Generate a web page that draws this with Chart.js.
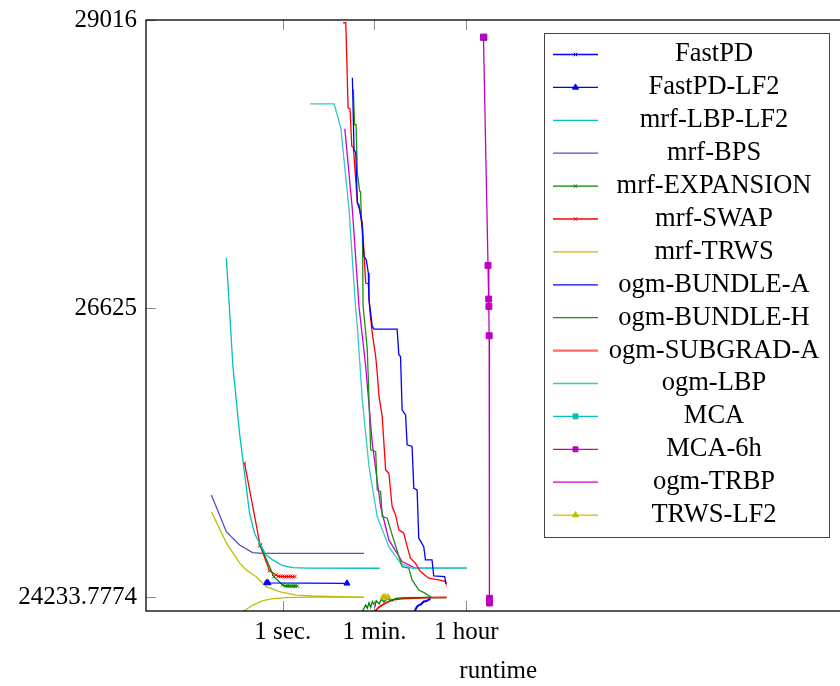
<!DOCTYPE html>
<html>
<head>
<meta charset="utf-8">
<script src="https://cdn.jsdelivr.net/npm/chart.js@4/dist/chart.umd.min.js"></script>
<style>
  html, body { margin: 0; padding: 0; background: #fff; overflow: hidden; }
  #wrap { width: 856px; height: 686px; }
</style>
</head>
<body>
<div id="wrap"><canvas id="chart" width="856" height="686"></canvas></div>
<script>
// x = runtime in seconds (log axis), y = energy
const xTicks = [1, 60, 3600];
const xTickLabels = ['1 sec.', '1 min.', '1 hour'];
const yTicks = [24233.7774, 26625, 29016];
const yTickLabels = ['24233.7774', '26625', '29016'];

const fastPD = [[0.48, 24352], [0.50, 24351]];
const fastPDLF2 = [[0.49, 24352], [0.52, 24350], [17.6, 24347]];
const mrfLBPLF2 = [[0.081, 27043], [0.0909, 26698], [0.1086, 26144], [0.146, 25592], [0.1825, 25260],
  [0.228, 24928], [0.2846, 24762], [0.3555, 24679], [0.4786, 24582], [0.641, 24541], [1.0, 24493],
  [1.56, 24477], [3.0, 24473], [75.6, 24472]];
const mrfBPS = [[0.0416, 25080], [0.081, 24775], [0.146, 24665], [0.2606, 24601], [0.411, 24596], [37.6, 24596]];
const mrfExpansion = [[0.3666, 24665], [0.671, 24402], [1.0, 24333], [1.127, 24325], [1.232, 24326],
  [1.346, 24324], [1.471, 24325], [1.608, 24324], [1.758, 24325], [1.921, 24324]];
const mrfSwap = [[0.1825, 25343], [0.3666, 24659], [0.554, 24452], [0.746, 24416], [0.826, 24405],
  [0.903, 24404], [0.987, 24404], [1.078, 24403], [1.179, 24404], [1.288, 24403], [1.408, 24404],
  [1.538, 24403], [1.719, 24403]];
const mrfTRWS = [[0.0416, 24941], [0.081, 24682], [0.146, 24516], [0.197, 24458], [0.307, 24401],
  [0.4786, 24319], [0.864, 24278], [1.813, 24250], [3.74, 24242], [37.6, 24231]];
const mrfTRWSLower = [[0.169, 24112], [0.264, 24167], [0.411, 24203], [0.641, 24220], [1.163, 24228],
  [3.79, 24233], [37.6, 24233]];
const ogmBundleA = [[22.4, 28537], [24.1, 27942], [26.0, 27914], [28.0, 27500], [31.1, 27444],
  [34.0, 27334], [37.6, 27057], [41.7, 27029], [45.6, 26919], [47.0, 26698], [50.7, 26587],
  [54.4, 26476], [58.7, 26454], [165, 26454], [178, 26241], [192, 26227], [206, 25785], [240, 25743],
  [258, 25495], [321, 25481], [347, 25135], [402, 25121], [433, 24721], [541, 24651], [583, 24541],
  [782, 24541], [843, 24408], [1374, 24402], [1455, 24342]];
const ogmBundleALower = [[347, 24100], [396, 24151], [433, 24167], [473, 24171], [541, 24196],
  [614, 24200], [675, 24213], [736, 24214]];
const ogmBundleH = [[23.4, 28440], [24.7, 28149], [26.4, 28149], [27.97, 27749], [31.1, 27596],
  [32.2, 27593], [34.0, 27306], [35.2, 27295], [36.0, 26656], [43.6, 26283], [50.7, 25453],
  [63.3, 25439], [67.9, 25121], [79.0, 25107], [84.8, 24900], [106, 24887], [132, 24748],
  [206, 24485], [278, 24472], [321, 24375], [433, 24292], [583, 24264], [782, 24228], [1500, 24228]];
const ogmBundleHLower = [[34.9, 24112], [40.6, 24167], [43.6, 24140], [47.0, 24186], [50.7, 24148],
  [54.4, 24195], [61.6, 24159], [65.0, 24203], [73.6, 24176], [82.6, 24215], [91.4, 24192],
  [106, 24220], [132, 24201], [154, 24223], [240, 24228], [675, 24231]];
const ogmSubgradA = [[14.8, 28993], [16.7, 28993], [18.5, 28288], [20.2, 28280], [21.8, 27969],
  [23.4, 27964], [27.97, 27500], [30.1, 27486], [32.5, 27389], [34.9, 27334], [40.6, 26836],
  [45.6, 26830], [48.5, 26615], [54.4, 26421], [63.3, 26227], [67.9, 26089], [73.6, 25895],
  [84.8, 25729], [98.7, 25287], [114, 25260], [132, 24983], [154, 24914], [178, 24790], [222, 24762],
  [258, 24651], [299, 24555], [374, 24513], [467, 24444], [675, 24389], [1052, 24375], [1416, 24361],
  [1455, 24347]];
const ogmSubgradALower = [[58.7, 24105], [73.6, 24151], [98.7, 24184], [132, 24209], [206, 24220],
  [374, 24225], [675, 24228], [1500, 24230]];
const ogmLBP = [[3.42, 28321], [9.93, 28321], [13.37, 28122], [19.3, 27444], [26.0, 26615],
  [27.97, 26476], [34.9, 25868], [47.0, 25315], [67.9, 24900], [114, 24651], [192, 24513],
  [321, 24472], [3700, 24472]];
const mca = [[7900, 28873]];
const mca6h = [[7760, 28873], [9500, 26982], [9800, 26703], [9900, 26642], [10000, 26399],
  [10100, 24223], [10150, 24184]];
const ogmTRBP = [[15.98, 28116], [22.4, 27444], [30.1, 26640], [40.6, 26144], [54.4, 25509],
  [79.0, 24983], [114, 24707], [206, 24527], [374, 24472], [3700, 24472]];
const trwsLF2 = [[88, 24231], [96, 24234], [110, 24232]];

const toPoints = arr => arr.map(([x, y]) => ({ x, y }));

function series(label, data, color, marker, opts) {
  return Object.assign({
    label,
    data: toPoints(data),
    borderColor: color,
    backgroundColor: color,
    borderWidth: 1.3,
    pointStyle: marker || 'circle',
    pointRadius: marker ? 3.5 : 0,
    pointBorderWidth: 1,
    tension: 0,
    inLegend: true
  }, opts || {});
}

const BLUE = '#0000ff', CYAN = '#00bfbf', SLATE = '#5050cc', GREEN = '#008000',
  RED = '#ff0000', YELLOW = '#bfbf00', MAGENTA = '#bf00bf';

const datasets = [
  series('FastPD', fastPD, BLUE, 'crossRot', { pointRadius: 2.5 }),
  series('FastPD-LF2', fastPDLF2, BLUE, 'triangle'),
  series('mrf-LBP-LF2', mrfLBPLF2, CYAN),
  series('mrf-BPS', mrfBPS, SLATE),
  series('mrf-EXPANSION', mrfExpansion, GREEN, 'crossRot', { pointRadius: 2.5 }),
  series('mrf-SWAP', mrfSwap, RED, 'crossRot', { pointRadius: 2.5 }),
  series('mrf-TRWS', mrfTRWS, YELLOW),
  series('ogm-BUNDLE-A', ogmBundleA, BLUE),
  series('ogm-BUNDLE-H', ogmBundleH, '#1a8f1a'),
  series('ogm-SUBGRAD-A', ogmSubgradA, RED, null, { legendColor: '#ff6a6a' }),
  series('ogm-LBP', ogmLBP, CYAN, null, { borderColor: '#33c8c8' }),
  series('MCA', mca, CYAN, 'rect', { pointRadius: 4.5, order: 1 }),
  series('MCA-6h', mca6h, MAGENTA, 'rect', { pointRadius: 4.2 }),
  series('ogm-TRBP', ogmTRBP, '#cc00cc'),
  series('TRWS-LF2', trwsLF2, YELLOW, 'triangle', { borderWidth: 2 }),
  // lower bounds, not in legend
  series('', mrfTRWSLower, YELLOW, null, { inLegend: false }),
  series('', ogmBundleALower, BLUE, null, { inLegend: false, borderWidth: 2 }),
  series('', ogmBundleHLower, GREEN, null, { inLegend: false }),
  series('', ogmSubgradALower, RED, null, { inLegend: false, borderWidth: 1.8 })
];

const framePlugin = {
  id: 'frame',
  afterDatasetsDraw(chart) {
    const { ctx, chartArea: a, scales } = chart;
    ctx.save();
    // inward tick marks
    ctx.strokeStyle = '#8c8c8c';
    ctx.lineWidth = 1;
    ctx.beginPath();
    scales.x.ticks.forEach((t, i) => {
      const px = Math.round(scales.x.getPixelForTick(i)) + 0.5;
      ctx.moveTo(px, a.top); ctx.lineTo(px, a.top + 10);
      ctx.moveTo(px, a.bottom); ctx.lineTo(px, a.bottom - 10);
    });
    scales.y.ticks.forEach((t, i) => {
      const py = Math.round(scales.y.getPixelForTick(i)) + 0.5;
      ctx.moveTo(a.left, py); ctx.lineTo(a.left + 10, py);
      ctx.moveTo(a.right, py); ctx.lineTo(a.right - 10, py);
    });
    ctx.stroke();
    ctx.strokeStyle = '#000';
    ctx.lineWidth = 1.3;
    ctx.strokeRect(a.left, a.top, a.right - a.left, a.bottom - a.top);

    // legend box, top right inside the plot
    const entries = chart.data.datasets.filter(d => d.inLegend);
    const bx = a.left + 398, by = a.top + 13, bw = 285, bh = 504;
    ctx.fillStyle = '#fff';
    ctx.fillRect(bx, by, bw, bh);
    ctx.strokeStyle = '#444';
    ctx.lineWidth = 1;
    ctx.strokeRect(bx + 0.5, by + 0.5, bw, bh);
    ctx.font = '26.5px "Liberation Serif", serif';
    ctx.textAlign = 'center';
    ctx.textBaseline = 'middle';
    entries.forEach((d, i) => {
      const y = by + 21.5 + i * 32.9;
      ctx.strokeStyle = d.legendColor || d.borderColor;
      ctx.lineWidth = d.legendColor ? 2.2 : 1.3;
      ctx.beginPath();
      ctx.moveTo(bx + 9, y); ctx.lineTo(bx + 54, y);
      ctx.stroke();
      if (d.pointRadius > 0) {
        ctx.fillStyle = d.backgroundColor;
        ctx.lineWidth = 1;
        Chart.helpers.drawPoint(ctx, {
          pointStyle: d.pointStyle, radius: Math.min(d.pointRadius, 3.5), rotation: 0, borderWidth: 1
        }, bx + 31.5, y);
      }
      ctx.fillStyle = '#000';
      ctx.fillText(d.label, bx + 170, y);
    });
    ctx.restore();
  }
};

Chart.defaults.font.family = '"Liberation Serif", serif';
Chart.defaults.font.size = 25;
Chart.defaults.color = '#000';

new Chart(document.getElementById('chart'), {
  type: 'line',
  data: { datasets },
  options: {
    responsive: false,
    devicePixelRatio: 1,
    animation: false,
    events: [],
    layout: { padding: { top: 20, right: 2, left: 0, bottom: 0 } },
    plugins: { legend: { display: false }, tooltip: { enabled: false } },
    scales: {
      x: {
        type: 'logarithmic',
        min: 0.00225,
        max: 1e11,
        grid: { display: false, drawTicks: false },
        border: { display: false },
        afterBuildTicks: s => { s.ticks = xTicks.map(v => ({ value: v })); },
        afterFit: s => { s.height = 75; s.paddingLeft = 0; s.paddingRight = 0; },
        ticks: {
          autoSkip: false,
          maxRotation: 0,
          padding: 6,
          callback: (v, i) => xTickLabels[i]
        },
        title: { display: true, text: 'runtime', padding: 0 }
      },
      y: {
        type: 'linear',
        min: 24117.6,
        max: 29016,
        grid: { display: false, drawTicks: false },
        border: { display: false },
        afterBuildTicks: s => { s.ticks = yTicks.map(v => ({ value: v })); },
        afterFit: s => { s.width = 146; s.paddingTop = 0; s.paddingBottom = 0; },
        ticks: {
          autoSkip: false,
          padding: 9,
          callback: (v, i) => yTickLabels[i]
        }
      }
    }
  },
  plugins: [framePlugin]
});
</script>
</body>
</html>
